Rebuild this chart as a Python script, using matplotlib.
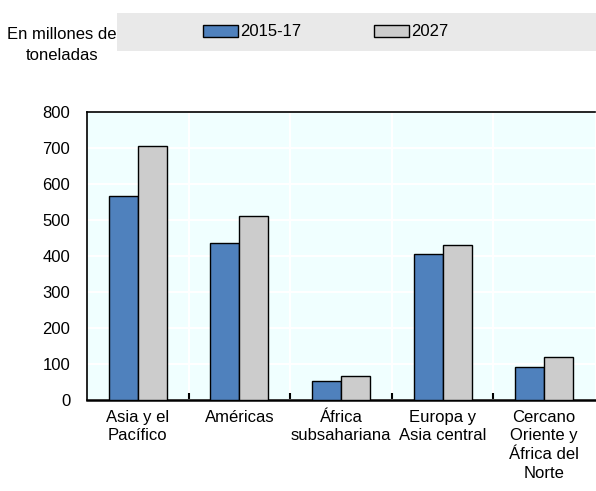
import numpy as np
import matplotlib.pyplot as plt
from matplotlib.patches import Rectangle

categories = ["Asia y el\nPacífico", "Américas", "África\nsubsahariana",
              "Europa y\nAsia central", "Cercano\nOriente y\nÁfrica del\nNorte"]
base = [567, 437, 54, 405, 93]
proj = [705, 512, 67, 430, 120]
series_names = ["2015-17", "2027"]
yticks = [0, 100, 200, 300, 400, 500, 600, 700, 800]

plt.rcParams['font.family'] = ['Liberation Sans', 'DejaVu Sans']
plt.rcParams['font.size'] = 12

fig = plt.figure(figsize=(5.96, 4.91), dpi=100)
ax = fig.add_axes([87/596, 1-400/491, 508/596, 288/491])
ax.set_facecolor("#F0FFFF")

x = np.arange(len(categories))
w = 0.285
b1 = ax.bar(x - w/2, base, w, color="#4F81BD", edgecolor="black", linewidth=1, zorder=3)
b2 = ax.bar(x + w/2, proj, w, color="#CCCCCC", edgecolor="black", linewidth=1, zorder=3)

ax.set_xlim(-0.5, len(categories) - 0.5)
ax.set_ylim(0, 800)
ax.set_yticks(yticks)
ax.set_xticks(x)
ax.set_xticklabels(categories, linespacing=1.3)
ax.set_xticks(np.arange(len(categories) - 1) + 0.5, minor=True)
ax.tick_params(axis="x", which="major", length=0, pad=7)
ax.tick_params(axis="x", which="minor", length=5, direction="in", width=1.5)
ax.tick_params(axis="y", length=0, pad=12)

ax.grid(True, which="major", axis="y", color="white", linewidth=1.5, zorder=0)
ax.grid(True, which="minor", axis="x", color="white", linewidth=1.5, zorder=0)
for s in ["top", "left"]:
    ax.spines[s].set_linewidth(1.2)
ax.spines["bottom"].set_linewidth(1.8)
ax.spines["right"].set_visible(False)

# legend band
fig.patches.append(Rectangle((117/596, 1-51/491), 479/596, 38/491,
                             transform=fig.transFigure, facecolor="#E9E9E9",
                             edgecolor="none", zorder=0))
fig.legend([b1, b2], series_names, ncol=2, frameon=False,
           loc="center left", bbox_to_anchor=(188/596, 1-32/491),
           handlelength=2.1, handleheight=0.75, handletextpad=0.1,
           columnspacing=4.4, fontsize=12)

fig.text(62/596, 1-45/491, "En millones de\ntoneladas", ha="center", va="center",
         fontsize=12, linespacing=1.45)

fig.savefig("out.png", dpi=100)
